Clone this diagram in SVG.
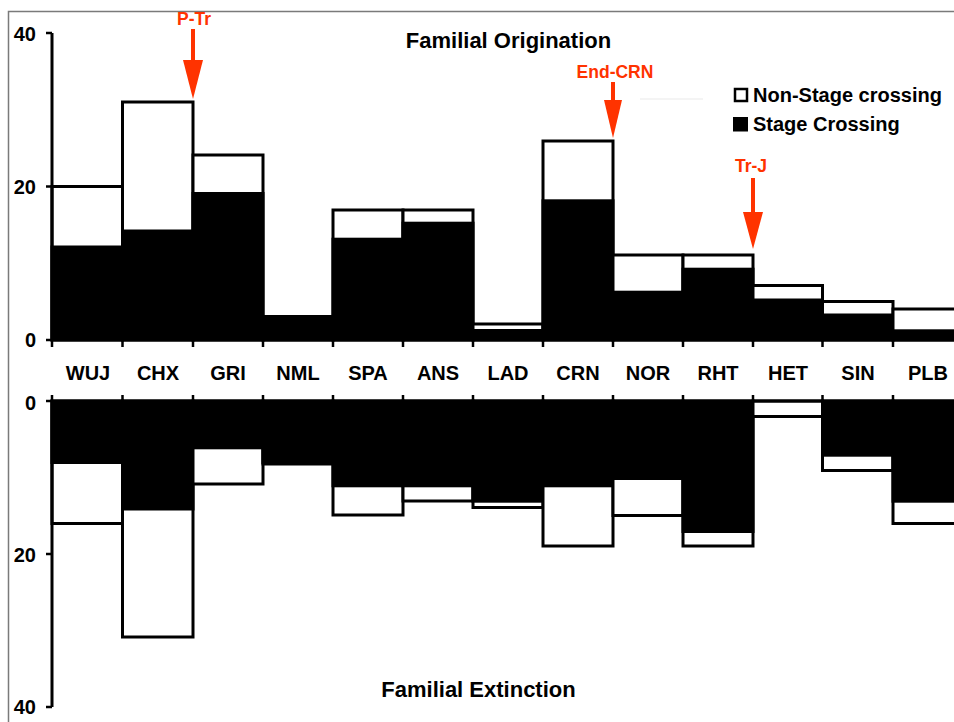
<svg xmlns="http://www.w3.org/2000/svg" width="954" height="722" viewBox="0 0 954 722">
<style>
.wb{fill:#fff;stroke:#000;stroke-width:3}
.bk{fill:#000;stroke:none}
.ax{stroke:#000;stroke-width:3;fill:none}
.tk{stroke:#000;stroke-width:2.5;fill:none}
.num{font-family:"Liberation Sans",Arial,sans-serif;font-weight:bold;font-size:20px;fill:#000;text-anchor:end}
.cat{font-family:"Liberation Sans",Arial,sans-serif;font-weight:bold;font-size:20px;fill:#000;text-anchor:middle}
.ttl{font-family:"Liberation Sans",Arial,sans-serif;font-weight:bold;font-size:22px;fill:#000;text-anchor:middle}
.leg{font-family:"Liberation Sans",Arial,sans-serif;font-weight:bold;font-size:20px;fill:#000}
.red{font-family:"Liberation Sans",Arial,sans-serif;font-weight:bold;font-size:17.5px;fill:#ff3300;text-anchor:middle}
.arr{fill:#ff3300;stroke:none}
</style>
<rect width="954" height="722" fill="#fff"/>
<path d="M8.5 722 V11.5 H954" fill="none" stroke="#7a7a7a" stroke-width="1.5"/>
<line x1="640" y1="99" x2="703" y2="99" stroke="#f1f1f1" stroke-width="1.5"/>

<g id="origination">
<g id="o-WUJ"><rect class="wb" x="52" y="186.5" width="70.5" height="153.5"/><rect class="bk" x="50.5" y="245.5" width="73.5" height="94.5"/></g>
<g id="o-CHX"><rect class="wb" x="122.5" y="102" width="70.5" height="238"/><rect class="bk" x="121" y="229.5" width="73.5" height="110.5"/></g>
<g id="o-GRI"><rect class="wb" x="193" y="155" width="70" height="185"/><rect class="bk" x="191.5" y="192" width="73" height="148"/></g>
<g id="o-NML"><rect class="wb" x="263" y="316.5" width="70" height="23.5"/><rect class="bk" x="261.5" y="315" width="73" height="25"/></g>
<g id="o-SPA"><rect class="wb" x="333" y="210" width="70" height="130"/><rect class="bk" x="331.5" y="237.7" width="73" height="102.3"/></g>
<g id="o-ANS"><rect class="wb" x="403" y="210" width="70" height="130"/><rect class="bk" x="401.5" y="221.7" width="73" height="118.3"/></g>
<g id="o-LAD"><rect class="wb" x="473" y="324" width="70" height="16"/><rect class="bk" x="471.5" y="329" width="73" height="11"/></g>
<g id="o-CRN"><rect class="wb" x="543" y="141" width="70" height="199"/><rect class="bk" x="541.5" y="199.3" width="73" height="140.7"/></g>
<g id="o-NOR"><rect class="wb" x="613" y="255" width="70" height="85"/><rect class="bk" x="611.5" y="290.7" width="73" height="49.3"/></g>
<g id="o-RHT"><rect class="wb" x="683" y="255" width="70" height="85"/><rect class="bk" x="681.5" y="267.7" width="73" height="72.3"/></g>
<g id="o-HET"><rect class="wb" x="753" y="285.5" width="69.5" height="54.5"/><rect class="bk" x="751.5" y="298.5" width="72.5" height="41.5"/></g>
<g id="o-SIN"><rect class="wb" x="822.5" y="301.5" width="70.5" height="38.5"/><rect class="bk" x="821" y="313.5" width="73.5" height="26.5"/></g>
<g id="o-PLB"><rect class="wb" x="893" y="309" width="70" height="31"/><rect class="bk" x="891.5" y="329.3" width="73" height="10.7"/></g>
</g>

<g id="extinction">
<g id="e-WUJ"><rect class="wb" x="52" y="401" width="70.5" height="122.5"/><rect class="bk" x="50.5" y="401" width="73.5" height="63"/></g>
<g id="e-CHX"><rect class="wb" x="122.5" y="401" width="70.5" height="236"/><rect class="bk" x="121" y="401" width="73.5" height="109.5"/></g>
<g id="e-GRI"><rect class="wb" x="193" y="401" width="70" height="83"/><rect class="bk" x="191.5" y="401" width="73" height="48.3"/></g>
<g id="e-NML"><rect class="wb" x="263" y="401" width="70" height="63"/><rect class="bk" x="261.5" y="401" width="73" height="63"/></g>
<g id="e-SPA"><rect class="wb" x="333" y="401" width="70" height="114"/><rect class="bk" x="331.5" y="401" width="73" height="86.3"/></g>
<g id="e-ANS"><rect class="wb" x="403" y="401" width="70" height="100"/><rect class="bk" x="401.5" y="401" width="73" height="86.3"/></g>
<g id="e-LAD"><rect class="wb" x="473" y="401" width="70" height="106.5"/><rect class="bk" x="471.5" y="401" width="73" height="101.7"/></g>
<g id="e-CRN"><rect class="wb" x="543" y="401" width="70" height="145"/><rect class="bk" x="541.5" y="401" width="73" height="86.3"/></g>
<g id="e-NOR"><rect class="wb" x="613" y="401" width="70" height="114.5"/><rect class="bk" x="611.5" y="401" width="73" height="79"/></g>
<g id="e-RHT"><rect class="wb" x="683" y="401" width="70" height="145"/><rect class="bk" x="681.5" y="401" width="73" height="132"/></g>
<g id="e-HET"><rect class="wb" x="753" y="401" width="69.5" height="15.5"/></g>
<g id="e-SIN"><rect class="wb" x="822.5" y="401" width="70.5" height="69.5"/><rect class="bk" x="821" y="401" width="73.5" height="55.7"/></g>
<g id="e-PLB"><rect class="wb" x="893" y="401" width="70" height="122.5"/><rect class="bk" x="891.5" y="401" width="73" height="101.7"/></g>
</g>

<g id="axes">
<path class="ax" d="M52 33 V340 H954"/>
<path class="tk" d="M46 33 H52 M46 186.5 H52 M46 340 H52"/>
<path class="tk" d="M52 340 V347 M122.5 340 V347 M193 340 V347 M263 340 V347 M333 340 V347 M403 340 V347 M473 340 V347 M543 340 V347 M613 340 V347 M683 340 V347 M753 340 V347 M822.5 340 V347 M893 340 V347"/>
<path class="ax" d="M52 707 V401 H954"/>
<path class="tk" d="M46 401 H52 M46 554 H52 M46 707 H52"/>
<path class="tk" d="M52 395 V401 M122.5 395 V401 M193 395 V401 M263 395 V401 M333 395 V401 M403 395 V401 M473 395 V401 M543 395 V401 M613 395 V401 M683 395 V401 M753 395 V401 M822.5 395 V401 M893 395 V401"/>
<text class="num" x="36" y="41">40</text>
<text class="num" x="36" y="194">20</text>
<text class="num" x="36" y="347">0</text>
<text class="num" x="36" y="410">0</text>
<text class="num" x="36" y="562">20</text>
<text class="num" x="36" y="714">40</text>
</g>

<g id="categories">
<text class="cat" x="88" y="380">WUJ</text>
<text class="cat" x="158" y="380">CHX</text>
<text class="cat" x="228" y="380">GRI</text>
<text class="cat" x="298" y="380">NML</text>
<text class="cat" x="368" y="380">SPA</text>
<text class="cat" x="438" y="380">ANS</text>
<text class="cat" x="508" y="380">LAD</text>
<text class="cat" x="578" y="380">CRN</text>
<text class="cat" x="648" y="380">NOR</text>
<text class="cat" x="718" y="380">RHT</text>
<text class="cat" x="788" y="380">HET</text>
<text class="cat" x="858" y="380">SIN</text>
<text class="cat" x="928" y="380">PLB</text>
</g>

<g id="titles">
<text class="ttl" x="508.5" y="48">Familial Origination</text>
<text class="ttl" x="478.5" y="697">Familial Extinction</text>
</g>

<g id="legend">
<rect x="735" y="89" width="12" height="12" fill="#fff" stroke="#000" stroke-width="2.5"/>
<rect x="733" y="117" width="15" height="14.5" fill="#000"/>
<text class="leg" x="753" y="102">Non-Stage crossing</text>
<text class="leg" x="753" y="131">Stage Crossing</text>
</g>

<g id="connectors">
<g id="arrow-PTr"><rect class="arr" x="191" y="29" width="4" height="33"/><polygon class="arr" points="183,60 203,60 193,99"/></g>
<g id="arrow-EndCRN"><rect class="arr" x="611" y="82" width="4" height="20"/><polygon class="arr" points="604,100 622,100 613,138"/></g>
<g id="arrow-TrJ"><rect class="arr" x="751" y="178" width="4" height="36"/><polygon class="arr" points="743,212 763,212 753,249"/></g>
</g>

<g id="markers">
<text class="red" x="194" y="25">P-Tr</text>
<text class="red" x="615" y="78">End-CRN</text>
<text class="red" x="751" y="172">Tr-J</text>
</g>
</svg>
